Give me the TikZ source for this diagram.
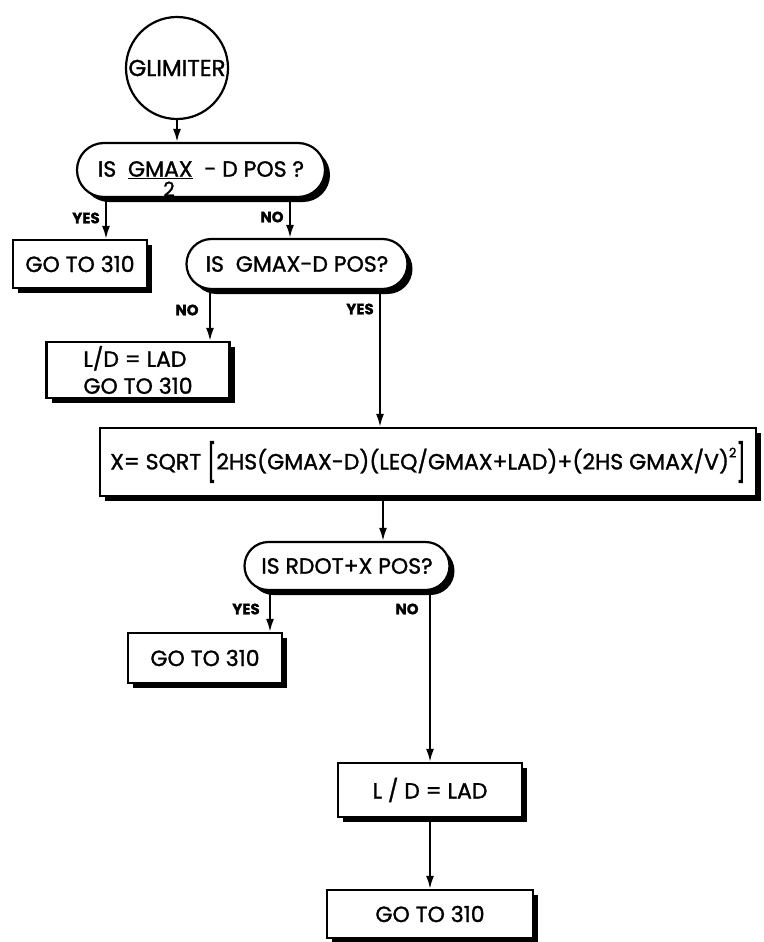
\documentclass[tikz,border=0pt]{standalone}
\usepackage{fontspec}
\setmainfont{Poppins}[FakeBold=1.3]
\usetikzlibrary{arrows.meta,shadows,shapes.misc}
\tikzset{
  shd/.style={drop shadow={shadow xshift=5pt, shadow yshift=-5pt, fill=black, opacity=1}},
  txt/.style={font=\fontsize{22}{27}\selectfont},
  box/.style={draw, line width=2.2pt, fill=white, rectangle, inner sep=0pt, shd, txt},
  dec/.style={draw, line width=2.2pt, fill=white, rounded rectangle, inner sep=0pt, shd, txt},
  arr/.style={line width=2pt, -{Latex[length=13pt,width=8pt]}},
  lbl/.style={font=\bfseries\fontsize{15}{17}\selectfont, inner sep=0pt}
}
\newcommand{\bigbrk}[1]{\raisebox{-0.3em}{\scalebox{1}[1.7]{#1}}}
\begin{document}
\begin{tikzpicture}[x=1pt,y=-1pt]
\useasboundingbox (0,0) rectangle (763,942);
% x positions of connectors
\coordinate (xa) at (106,0);
\coordinate (xb) at (290,0);
\coordinate (xc) at (210,0);
\coordinate (xd) at (380,0);
\coordinate (xg) at (383,0);
\coordinate (xe) at (270,0);
\coordinate (xf) at (430,0);

\node[circle, draw, line width=2.2pt, minimum size=102pt, inner sep=0pt, font=\fontsize{23}{26}\selectfont] (start) at (177,68) {GLIMITER};

\node[dec, minimum width=248pt, minimum height=54pt] (d1) at (201,170) {IS\ \ \underline{GMAX}\ \ - D POS ?};
\node[font=\fontsize{20}{22}\selectfont, inner sep=0pt] (two) at (169,189) {2};

\node[box, minimum width=134pt, minimum height=48pt] (b1) at (80,264) {GO TO 310};
\node[dec, minimum width=221pt, minimum height=50pt] (d2) at (297,264) {IS\ \ GMAX-D POS?};
\node[box, minimum width=183pt, minimum height=56pt, align=left] (ld1) at (138,370) {L/D = LAD\\GO TO 310};
\node[box, minimum width=656pt, minimum height=68pt] (wide) at (428,462)
  {X= SQRT\ \bigbrk{[}2HS(GMAX-D)(LEQ/GMAX+LAD)+(2HS GMAX/V)\raisebox{0.55em}{\fontsize{13}{14}\selectfont 2}\bigbrk{]}};
\node[dec, minimum width=205pt, minimum height=48pt] (d3) at (347,566) {IS RDOT+X POS?};
\node[box, minimum width=154pt, minimum height=50pt] (b2) at (205,658) {GO TO 310\hspace{26pt}};
\node[box, minimum width=184pt, minimum height=54pt] (ld2) at (430,790) {L / D = LAD};
\node[box, minimum width=206pt, minimum height=48pt] (b3) at (430,914) {GO TO 310};

\draw[arr] (start.south) -- (start.south |- d1.north);
\draw[arr] (d1.south -| xa) -- (b1.north -| xa);
\draw[arr] (d1.south -| xb) -- (d2.north -| xb);
\draw[arr] (d2.south -| xc) -- (ld1.north -| xc);
\draw[arr] (d2.south -| xd) -- (wide.north -| xd);
\draw[arr] (wide.south -| xg) -- (d3.north -| xg);
\draw[arr] (d3.south -| xe) -- (b2.north -| xe);
\draw[arr] (d3.south -| xf) -- (ld2.north -| xf);
\draw[arr] (ld2.south -| xf) -- (b3.north -| xf);

\node[lbl] (y1) at (86,218) {YES};
\node[lbl] (n1) at (272,217) {NO};
\node[lbl] (n2) at (187,310) {NO};
\node[lbl] (y2) at (360,309) {YES};
\node[lbl] (y3) at (246,609) {YES};
\node[lbl] (n3) at (407,609) {NO};
\end{tikzpicture}
\end{document}
